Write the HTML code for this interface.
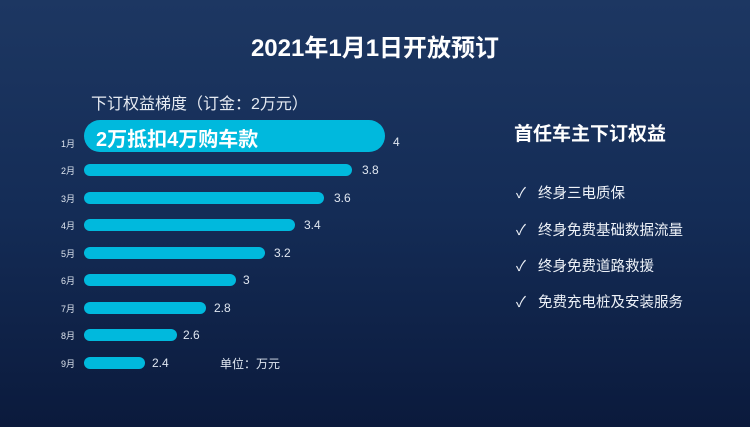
<!DOCTYPE html><html><head><meta charset="utf-8"><style>
body{margin:0;width:750px;height:427px;overflow:hidden;background:linear-gradient(180deg,#1d3762 0%,#142c56 50%,#0b1a3c 100%);font-family:"Liberation Sans","Noto Sans CJK SC",sans-serif;color:#fff;position:relative}
.a{position:absolute;white-space:nowrap}
.bar{position:absolute;left:84px;height:12px;border-radius:6px;background:#00b9dd}
.m{position:absolute;left:61px;font-size:9px;color:#dfe6f0}
.v{position:absolute;font-size:12px;color:#dfe6f0}
.c{position:absolute;left:516px;font-size:14.5px;color:#eef2f8}
</style></head><body>
<div class="a" style="left:0;width:750px;text-align:center;top:28px;font-size:24px;font-weight:bold">2021年1月1日开放预订</div>
<div class="a" style="left:91px;top:90px;font-size:16px;color:#e6ebf2">下订权益梯度（订金：2万元）</div>
<div class="a" style="left:84px;top:120px;width:301px;height:32px;border-radius:16px;background:#00b9dd"></div>
<div class="a" style="left:96px;top:123px;font-size:20px;font-weight:bold">2万抵扣4万购车款</div>
<div class="m" style="top:137px">1月</div><div class="v" style="left:393px;top:135px">4</div>
<div class="bar" style="top:164px;width:268px"></div><div class="m" style="top:164px">2月</div><div class="v" style="left:362px;top:163px">3.8</div>
<div class="bar" style="top:192px;width:240px"></div><div class="m" style="top:192px">3月</div><div class="v" style="left:334px;top:191px">3.6</div>
<div class="bar" style="top:219px;width:211px"></div><div class="m" style="top:219px">4月</div><div class="v" style="left:304px;top:218px">3.4</div>
<div class="bar" style="top:247px;width:181px"></div><div class="m" style="top:247px">5月</div><div class="v" style="left:274px;top:246px">3.2</div>
<div class="bar" style="top:274px;width:152px"></div><div class="m" style="top:274px">6月</div><div class="v" style="left:243px;top:273px">3</div>
<div class="bar" style="top:302px;width:122px"></div><div class="m" style="top:302px">7月</div><div class="v" style="left:214px;top:301px">2.8</div>
<div class="bar" style="top:329px;width:93px"></div><div class="m" style="top:329px">8月</div><div class="v" style="left:183px;top:328px">2.6</div>
<div class="bar" style="top:357px;width:61px"></div><div class="m" style="top:357px">9月</div><div class="v" style="left:152px;top:356px">2.4</div>
<div class="v" style="left:220px;top:355px;font-size:12px">单位：万元</div>
<div class="a" style="left:514px;top:119px;font-size:19px;font-weight:bold">首任车主下订权益</div>
<div class="c" style="top:182px">✓&nbsp;&nbsp;&nbsp;终身三电质保</div>
<div class="c" style="top:219px">✓&nbsp;&nbsp;&nbsp;终身免费基础数据流量</div>
<div class="c" style="top:255px">✓&nbsp;&nbsp;&nbsp;终身免费道路救援</div>
<div class="c" style="top:291px">✓&nbsp;&nbsp;&nbsp;免费充电桩及安装服务</div>
</body></html>
